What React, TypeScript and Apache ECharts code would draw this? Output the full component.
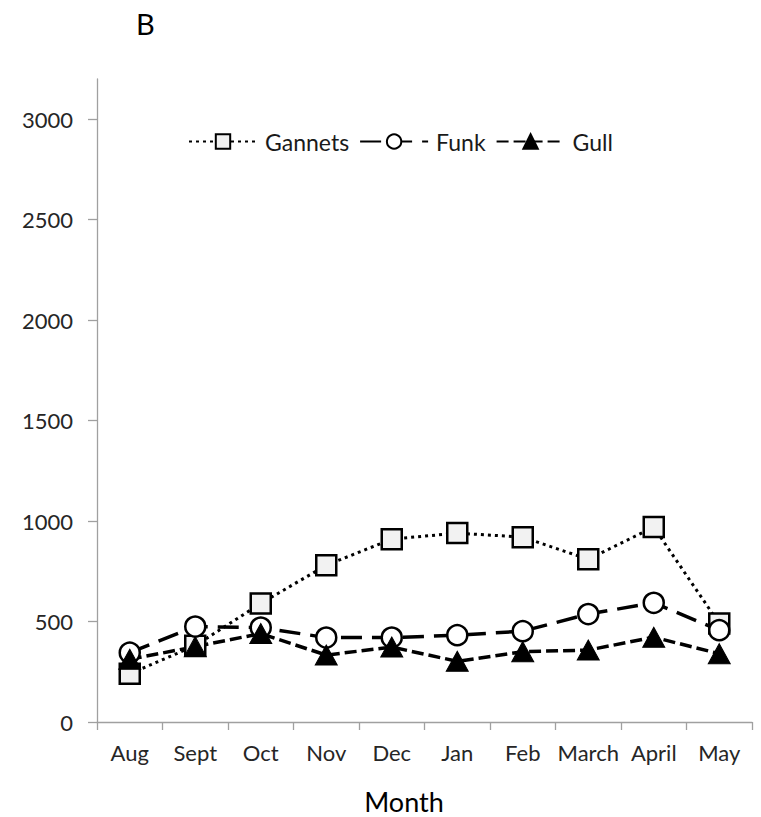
import React, { useEffect, useRef } from "react";
import * as echarts from "echarts";

const months = ["Aug", "Sept", "Oct", "Nov", "Dec", "Jan", "Feb", "March", "April", "May"];
const gannets = [240, 380, 590, 780, 910, 940, 920, 810, 970, 490];
const funk = [345, 475, 470, 420, 420, 432, 452, 537, 593, 457];
const gull = [312, 375, 440, 333, 373, 302, 350, 358, 422, 340];
const yTicks = [0, 500, 1000, 1500, 2000, 2500, 3000];

const FONT = "Lato";

export default function App() {
  const ref = useRef<HTMLDivElement>(null);
  useEffect(() => {
    if (!ref.current) return;
    const chart = echarts.init(ref.current, undefined, { renderer: "svg" });
    chart.setOption({
      animation: false,
      backgroundColor: "#ffffff",
      textStyle: { fontFamily: FONT },
      title: {
        text: "B",
        left: 131,
        top: 4,
        textStyle: { fontFamily: FONT, fontSize: 29, fontWeight: "normal", color: "#000" },
      },
      legend: {
        left: 183,
        top: 125,
        itemWidth: 68,
        itemHeight: 18,
        itemGap: 10,
        textStyle: { fontFamily: FONT, fontSize: 23, color: "#1a1a1a", padding: [0, 0, 0, 3] },
        data: ["Gannets", "Funk", "Gull"],
      },
      grid: { left: 97, right: 9, top: 79, bottom: 95, containLabel: false },
      xAxis: {
        type: "category",
        data: months,
        boundaryGap: true,
        axisLine: { lineStyle: { color: "#a0a0a0", width: 1.3 } },
        axisTick: { show: true, length: 8, lineStyle: { color: "#a0a0a0", width: 1.3 } },
        axisLabel: { fontFamily: FONT, fontSize: 22, color: "#262626", margin: 19, interval: 0 },
        splitLine: { show: false },
      },
      yAxis: {
        type: "value",
        min: 0,
        max: 3200,
        interval: 500,
        axisLine: { show: true, lineStyle: { color: "#a0a0a0", width: 1.3 } },
        axisTick: { show: true, length: 9, lineStyle: { color: "#a0a0a0", width: 1.3 }, customValues: yTicks },
        axisLabel: {
          fontFamily: FONT,
          fontSize: 22,
          color: "#262626",
          margin: 24,
          customValues: yTicks,
          formatter: (v: number) => String(v),
        },
        splitLine: { show: false },
      },
      series: [
        {
          name: "Gannets",
          type: "line",
          data: gannets,
          symbol: "rect",
          symbolSize: 20,
          lineStyle: { color: "#000", width: 3, type: [3, 4] },
          itemStyle: { color: "#f2f2f2", borderColor: "#000", borderWidth: 2.5 },
        },
        {
          name: "Funk",
          type: "line",
          data: funk,
          symbol: "circle",
          symbolSize: 20,
          lineStyle: { color: "#000", width: 3.5, type: [21, 10] },
          itemStyle: { color: "#ffffff", borderColor: "#000", borderWidth: 2.5 },
        },
        {
          name: "Gull",
          type: "line",
          data: gull,
          symbol: "triangle",
          symbolSize: [22, 20],
          lineStyle: { color: "#000", width: 3.5, type: [12, 5] },
          itemStyle: { color: "#000", borderColor: "#000", borderWidth: 1 },
        },
      ],
      graphic: [
        {
          type: "text",
          x: 404,
          y: 801,
          style: {
            text: "Month",
            fontFamily: FONT,
            fontSize: 27,
            fill: "#000",
            textAlign: "center",
            textVerticalAlign: "middle",
          },
        },
      ],
    });
    return () => chart.dispose();
  }, []);
  return <div ref={ref} style={{ width: 761, height: 817, position: "absolute", left: 0, top: 0 }} />;
}
